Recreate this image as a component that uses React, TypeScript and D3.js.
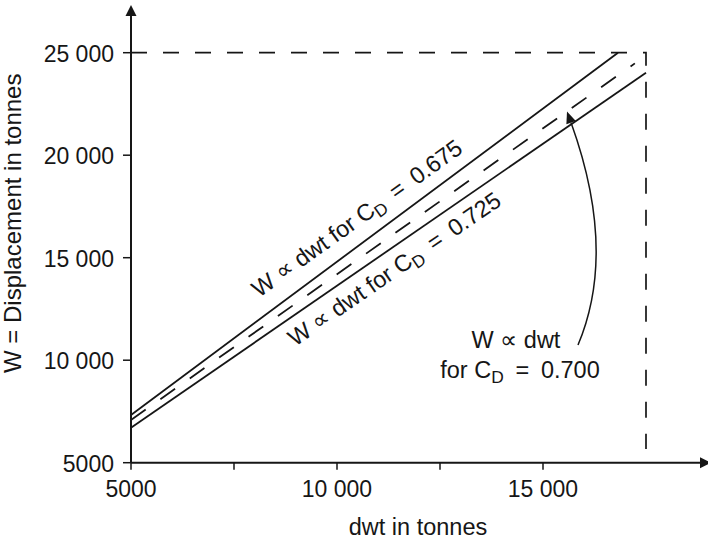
import React from "react";
import * as d3 from "d3";

// ---- data ----
const xTicks = [5000, 7500, 10000, 12500, 15000];
const xTickLabels = ["5000", "", "10 000", "", "15 000"];
const yTicks = [5000, 10000, 15000, 20000, 25000];
const yTickLabels = ["5000", "10 000", "15 000", "20 000", "25 000"];

// W vs dwt for C_D = 0.675 (upper solid line)
const dwt675 = [5000, 16820];
const w675 = [7330, 25000];
// W vs dwt for C_D = 0.700 (dashed line)
const dwt700 = [5000, 17230];
const w700 = [7083, 24480];
// W vs dwt for C_D = 0.725 (lower solid line)
const dwt725 = [5000, 17500];
const w725 = [6707, 24020];

// limit box
const limitDwt = 17500;
const limitW = 25000;
// arrow target on dashed line
const arrowDwt = 15583;

const FONT = "'Liberation Sans', Arial, Helvetica, sans-serif";

export default function App() {
  const width = 708;
  const height = 544;
  const x = d3.scaleLinear().domain([5000, 17500]).range([131, 646]);
  const y = d3.scaleLinear().domain([5000, 25000]).range([462.7, 52.7]);
  const line = d3
    .line<[number, number]>()
    .x((d) => x(d[0]))
    .y((d) => y(d[1]));

  const pts = (a: number[], b: number[]) => a.map((v, i) => [v, b[i]] as [number, number]);

  const x0 = x(5000);
  const y0 = y(5000);
  const xEnd = 711;
  const yTop = 5;

  // arrow annotation
  const tipW = d3.scaleLinear().domain(dwt700).range(w700)(arrowDwt);
  const tip: [number, number] = [x(arrowDwt), y(tipW)];
  const start: [number, number] = [578, 345];
  const ctrl: [number, number] = [617.5, 251.5];
  const dx = tip[0] - ctrl[0];
  const dy = tip[1] - ctrl[1];
  const len = Math.hypot(dx, dy);
  const ux = dx / len;
  const uy = dy / len;
  const headLen = 12;
  const headHalf = 5;
  const p2: [number, number] = [tip[0] - ux * headLen, tip[1] - uy * headLen];
  const curve = `M${start[0]},${start[1]} Q${ctrl[0]},${ctrl[1]} ${p2[0]},${p2[1]}`;
  const head = `M${tip[0]},${tip[1]} L${p2[0] - uy * headHalf},${p2[1] + ux * headHalf} L${p2[0] + uy * headHalf},${p2[1] - ux * headHalf} Z`;

  const fs = 23.5;
  const tickFs = 23;
  const sub = (t: string, size: number) => (
    <>
      <tspan fontSize={size * 0.74} dy={5}>
        {t}
      </tspan>
      <tspan dy={-5}>{"\u2002=\u2002"}</tspan>
    </>
  );
  const ink = "#161616";

  return (
    <svg
      width={width}
      height={height}
      style={{ position: "absolute", left: 0, top: 0, background: "#fff" }}
      fontFamily={FONT}
    >
      <rect width={width} height={height} fill="#fff" />

      {/* limit dashed box */}
      <path
        d={`M${x(5000)},${y(limitW)} L${x(limitDwt)},${y(limitW)} L${x(limitDwt)},449`}
        fill="none"
        stroke={ink}
        strokeWidth={1.7}
        strokeDasharray="16,16"
      />

      {/* data lines */}
      <path d={line(pts(dwt675, w675)) || ""} fill="none" stroke={ink} strokeWidth={1.8} />
      <path d={line(pts(dwt725, w725)) || ""} fill="none" stroke={ink} strokeWidth={1.8} />
      <path
        d={line(pts(dwt700, w700)) || ""}
        fill="none"
        stroke={ink}
        strokeWidth={1.8}
        strokeDasharray="18,18"
      />

      {/* axes */}
      <line x1={x0} y1={y0} x2={xEnd - 10} y2={y0} stroke={ink} strokeWidth={2} />
      <path d={`M${xEnd},${y0} L${xEnd - 11},${y0 - 5.5} L${xEnd - 11},${y0 + 5.5} Z`} fill={ink} />
      <line x1={x0} y1={y0} x2={x0} y2={yTop + 9} stroke={ink} strokeWidth={2} />
      <path d={`M${x0},${yTop} L${x0 - 5.5},${yTop + 11} L${x0 + 5.5},${yTop + 11} Z`} fill={ink} />

      {xTicks.map((t, i) => (
        <g key={"xt" + t}>
          <line x1={x(t)} x2={x(t)} y1={y0} y2={y0 + 7} stroke={ink} strokeWidth={1.5} />
          {xTickLabels[i] && (
            <text x={x(t)} y={y0 + 34.3} textAnchor="middle" fontSize={tickFs} fill={ink}>
              {xTickLabels[i]}
            </text>
          )}
        </g>
      ))}
      {yTicks.map((t, i) => (
        <g key={"yt" + t}>
          <line x1={x0 - 8} x2={x0} y1={y(t)} y2={y(t)} stroke={ink} strokeWidth={1.5} />
          <text x={x0 - 17} y={y(t) + 9} textAnchor="end" fontSize={tickFs} fill={ink}>
            {yTickLabels[i]}
          </text>
        </g>
      ))}

      {/* axis titles */}
      <text x={418} y={535} textAnchor="middle" fontSize={23.5} fill={ink}>
        dwt in tonnes
      </text>
      <text
        transform={`translate(21,373) rotate(-90)`}
        textAnchor="start"
        fontSize={24}
        fill={ink}
      >
        W = Displacement in tonnes
      </text>

      {/* line labels */}
      <text
        transform={`translate(259,298) rotate(-35.5)`}
        textAnchor="start"
        fontSize={fs}
        fill={ink}
        textLength={252}
        lengthAdjust="spacing"
      >
        W ∝ dwt for C{sub("D", fs)}0.675
      </text>
      <text
        transform={`translate(295,347) rotate(-34.5)`}
        textAnchor="start"
        fontSize={fs}
        fill={ink}
        textLength={252}
        lengthAdjust="spacing"
      >
        W ∝ dwt for C{sub("D", fs)}0.725
      </text>

      {/* dashed-line annotation */}
      <text x={516} y={348} textAnchor="middle" fontSize={23.5} fill={ink}>
        W ∝ dwt
      </text>
      <text x={520} y={378} textAnchor="middle" fontSize={23.5} fill={ink}>
        for C{sub("D", 23.5)}0.700
      </text>
      <path d={curve} fill="none" stroke={ink} strokeWidth={1.5} />
      <path d={head} fill={ink} />
    </svg>
  );
}
